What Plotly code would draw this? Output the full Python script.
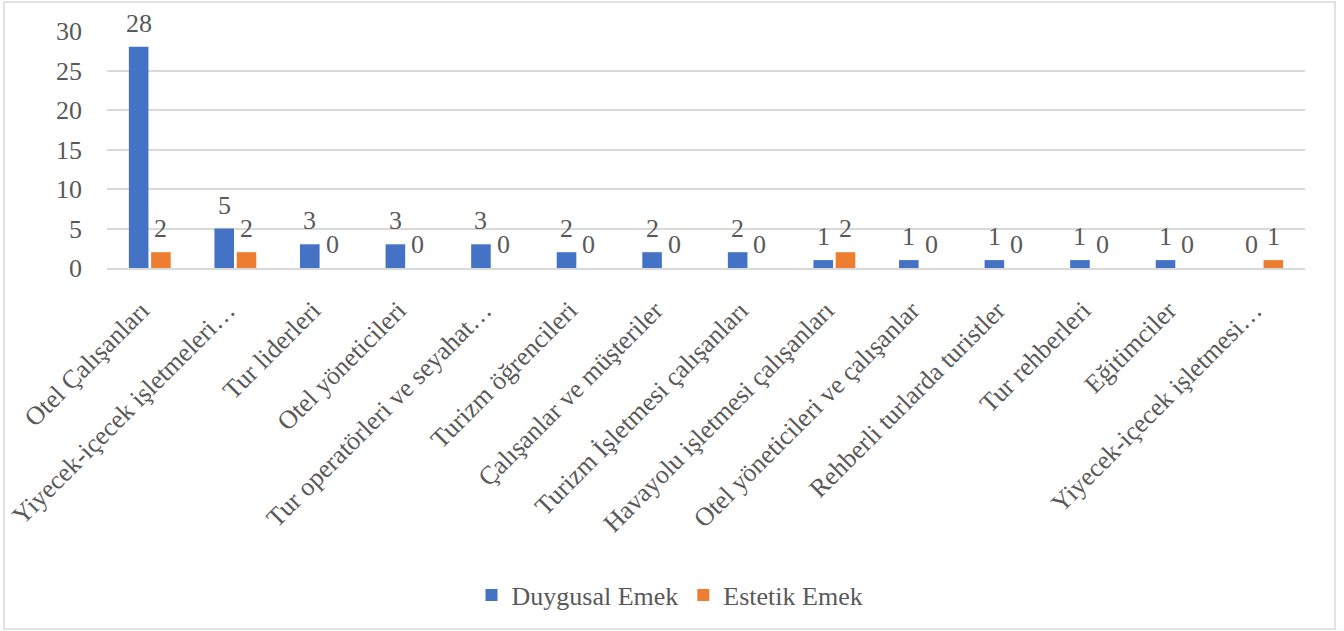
import plotly.graph_objects as go

categories = [
    "Otel Çalışanları",
    "Yiyecek-içecek işletmeleri…",
    "Tur liderleri",
    "Otel yöneticileri",
    "Tur operatörleri ve seyahat…",
    "Turizm öğrencileri",
    "Çalışanlar ve müşteriler",
    "Turizm İşletmesi çalışanları",
    "Havayolu işletmesi çalışanları",
    "Otel yöneticileri ve çalışanlar",
    "Rehberli turlarda turistler",
    "Tur rehberleri",
    "Eğitimciler",
    "Yiyecek-içecek işletmesi…",
]
duygusal = [28, 5, 3, 3, 3, 2, 2, 2, 1, 1, 1, 1, 1, 0]
estetik = [2, 2, 0, 0, 0, 0, 0, 0, 2, 0, 0, 0, 0, 1]
y_ticks = [0, 5, 10, 15, 20, 25, 30]

FONT = "Liberation Serif, Times New Roman, serif"
GRAY = "#595959"
FS = 26

W, H = 1344, 631
ML, MR, MT, MB = 107, 39, 31, 363
PW = W - ML - MR
PH = H - MT - MB
BARGAP = 0.48

fig = go.Figure()
fig.add_trace(go.Bar(
    x=categories, y=duygusal, name="Duygusal Emek",
    marker=dict(color="#4472C4", line=dict(width=0)),
))
fig.add_trace(go.Bar(
    x=categories, y=estetik, name="Estetik Emek",
    marker=dict(color="#ED7D31", line=dict(width=0)),
))

# data labels above each bar (Excel style), positioned through the data axes
cat_px = PW / len(categories)
half_slot = (1 - BARGAP) * cat_px / 4
annotations = []
for series, sign in ((duygusal, -1), (estetik, 1)):
    for c, v in zip(categories, series):
        annotations.append(dict(
            x=c, y=v, xref="x", yref="y", text=str(v), showarrow=False,
            xanchor="center", yanchor="bottom", xshift=sign * half_slot, yshift=7,
            font=dict(family=FONT, size=FS, color=GRAY),
        ))

fig.update_layout(
    width=W, height=H,
    margin=dict(l=ML, r=MR, t=MT, b=MB, autoexpand=False),
    paper_bgcolor="white", plot_bgcolor="white",
    font=dict(family=FONT, size=FS, color=GRAY),
    barmode="group", bargap=BARGAP, bargroupgap=0.12,
    showlegend=True,
    legend=dict(orientation="h", x=(670 - ML) / PW, xanchor="center",
                y=(268 - 595) / PH, yanchor="middle",
                font=dict(family=FONT, size=FS, color=GRAY)),
    xaxis=dict(tickangle=-45, showgrid=False, showline=True, linecolor="#d9d9d9", linewidth=1.5,
               range=[-0.5, len(categories) - 0.5], autorange=False, automargin=False,
               ticks="", tickfont=dict(family=FONT, size=FS, color=GRAY),
               ticklabelstandoff=15, ticklabelshift=-8),
    yaxis=dict(range=[0, 30], tickvals=y_ticks, showgrid=True, gridcolor="#d9d9d9", gridwidth=1.5,
               zeroline=False, showline=False, ticks="", automargin=False,
               tickfont=dict(family=FONT, size=FS, color=GRAY), ticklabelstandoff=24),
    annotations=annotations,
    shapes=[dict(type="rect", xref="paper", yref="paper",
                 x0=(4 - ML) / PW, x1=(1335 - ML) / PW,
                 y0=(268 - 629) / PH, y1=(268 - 2) / PH,
                 line=dict(color="#d9d9d9", width=1.5), fillcolor="rgba(0,0,0,0)", layer="below")],
)

fig.write_html("out.html")
